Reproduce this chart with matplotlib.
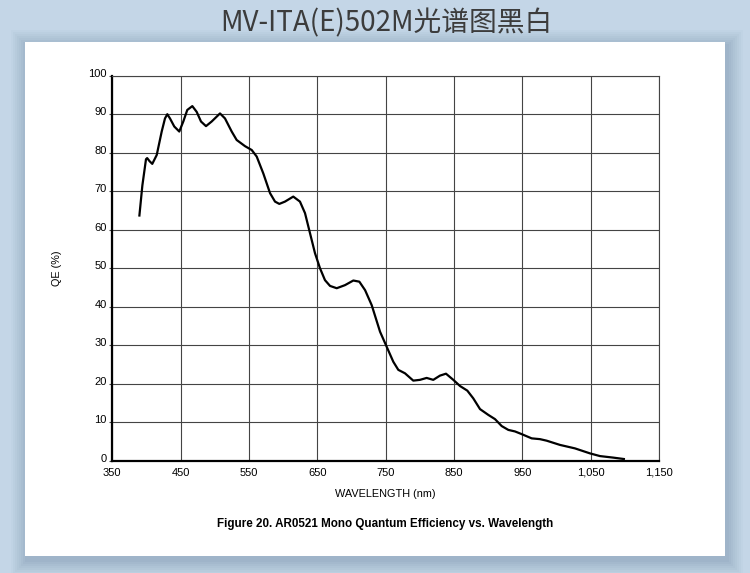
import matplotlib
matplotlib.use("Agg")
import matplotlib.pyplot as plt
from matplotlib.patches import Rectangle
import matplotlib.transforms as mtransforms

wavelength = [389.5, 394.0, 399.3, 401.0, 404.5, 408.5, 415.0, 422.3, 427.1, 430.5,
              434.4, 440.7, 448.0, 453.9, 459.7, 467.1, 473.5, 479.8, 487.1, 495.4,
              507.6, 514.9, 524.7, 532.0, 544.2, 554.0, 561.3, 571.0, 580.8, 588.1,
              594.4, 602.7, 614.8, 624.6, 632.0, 639.3, 646.6, 653.9, 661.2, 668.6,
              678.4, 690.5, 702.7, 711.5, 719.9, 729.6, 741.8, 751.5, 761.2, 768.5,
              778.3, 790.4, 800.2, 810.0, 819.7, 829.5, 838.3, 849.0, 858.8, 869.5,
              878.2, 888.1, 900.2, 910.0, 919.8, 929.5, 939.3, 949.1, 963.7, 975.8,
              985.6, 1005.1, 1027.0, 1049.0, 1063.6, 1083.1, 1100.2]
qe = [63.4, 71.5, 78.3, 78.6, 77.8, 77.1, 79.4, 85.5, 88.9, 90.0,
      88.9, 86.8, 85.5, 88.1, 91.1, 92.1, 90.6, 88.1, 86.9, 88.1,
      90.2, 88.9, 85.5, 83.3, 81.7, 80.7, 79.0, 74.6, 69.5, 67.3,
      66.7, 67.3, 68.6, 67.3, 64.3, 59.1, 53.9, 50.0, 46.9, 45.4,
      44.8, 45.6, 46.8, 46.5, 44.3, 40.4, 33.5, 29.6, 25.7, 23.6,
      22.7, 20.8, 21.0, 21.5, 21.0, 22.1, 22.6, 21.0, 19.4, 18.2,
      16.2, 13.4, 11.9, 10.8, 9.0, 8.0, 7.6, 6.9, 5.8, 5.6,
      5.2, 4.1, 3.2, 1.9, 1.2, 0.8, 0.4]

x_ticks = [350, 450, 550, 650, 750, 850, 950, 1050, 1150]
x_tick_labels = ["350", "450", "550", "650", "750", "850", "950", "1,050", "1,150"]
y_ticks = [0, 10, 20, 30, 40, 50, 60, 70, 80, 90, 100]

title_text = "MV-ITA(E)502M光谱图黑白"
xlabel_text = "WAVELENGTH (nm)"
ylabel_text = "QE (%)"
caption_text = "Figure 20. AR0521 Mono Quantum Efficiency vs. Wavelength"

W, H = 750, 573
fig = plt.figure(figsize=(W / 100, H / 100), dpi=100)
fig.patch.set_facecolor("#c4d6e7")

def fx(px):
    return px / W

def fy(py):
    return (H - py) / H

# panel shadow
px0, py0, px1, py1 = 25, 42, 725, 556
for i, a in enumerate([0.04, 0.05, 0.05, 0.06, 0.06, 0.07, 0.08, 0.09]):
    g = 16 - 2 * i
    fig.patches.append(Rectangle((fx(px0 - g + 2), fy(py1 + g + 4)),
                                 (px1 - px0 + 2 * g) / W, (py1 - py0 + 2 * g) / H,
                                 transform=fig.transFigure, facecolor="#6f8aa5",
                                 edgecolor="none", alpha=a, zorder=0))
fig.patches.append(Rectangle((fx(px0), fy(py1)), (px1 - px0) / W, (py1 - py0) / H,
                             transform=fig.transFigure, facecolor="white",
                             edgecolor="none", zorder=1))

# title
fig.text(fx(386), fy(23), title_text, ha="center", va="center", fontsize=20,
         color="#3c3c3c", family=["Noto Sans CJK SC", "DejaVu Sans"])

ax_l, ax_r, ax_t, ax_b = 112.3, 659, 75.7, 460.7
ax = fig.add_axes([fx(ax_l), fy(ax_b), (ax_r - ax_l) / W, (ax_b - ax_t) / H])
ax.set_facecolor("white")
ax.set_zorder(2)

ax.plot(wavelength, qe, color="black", lw=1.6, solid_joinstyle="round",
        solid_capstyle="butt", zorder=3)

ax.set_xlim(350, 1150)
ax.set_ylim(0, 100)
ax.set_xticks(x_ticks)
ax.set_xticklabels(x_tick_labels)
ax.set_yticks(y_ticks)
ax.grid(True, color="#444444", lw=0.8)
ax.set_axisbelow(True)

for s in ["top", "right"]:
    ax.spines[s].set_linewidth(0.8)
    ax.spines[s].set_color("#444444")
for s in ["left", "bottom"]:
    ax.spines[s].set_linewidth(1.6)
    ax.spines[s].set_color("black")

ax.tick_params(axis="both", length=2, width=0.8, color="#444444",
               labelsize=8, labelcolor="black")
ax.tick_params(axis="x", pad=5, length=0)
ax.tick_params(axis="y", pad=2)

font = "Liberation Sans"
for lab in ax.get_xticklabels() + ax.get_yticklabels():
    lab.set_family(font)
offset = mtransforms.ScaledTranslation(0, 3 / 100, fig.dpi_scale_trans)
for lab in ax.get_yticklabels():
    lab.set_transform(lab.get_transform() + offset)

fig.text(fx(385), fy(494), xlabel_text, ha="center", va="center", fontsize=7.8,
         family=font, color="black")
fig.text(fx(57), fy(268), ylabel_text, ha="center", va="center", fontsize=7.8,
         family=font, rotation=90, color="black")
fig.text(fx(385), fy(524), caption_text, ha="center", va="center", fontsize=8.4,
         family=font, fontweight="bold", color="black")

fig.savefig("out.png", dpi=100, facecolor=fig.get_facecolor())
